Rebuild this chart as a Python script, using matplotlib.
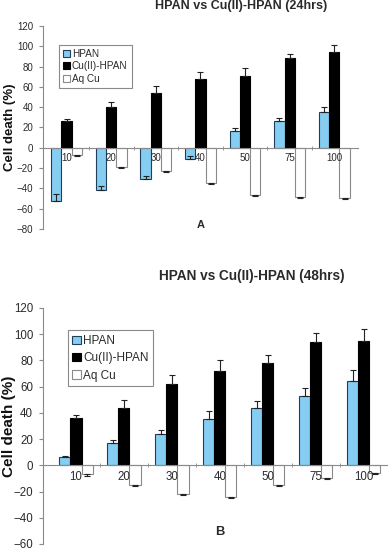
"""
plot.py - HPAN vs Cu(II)-HPAN cell death, 24 h and 48 h panels.
"""

import matplotlib
matplotlib.use("Agg")
import matplotlib.pyplot as plt
import numpy as np

plt.rcParams["font.family"] = ["Liberation Sans", "DejaVu Sans"]

# data

doses = ["10", "20", "30", "40", "50", "75", "100"]

hpan_24 = [-52, -42, -31, -11, 17, 26, 35]
hpan_24_err = [6.5, 4, 3, 2.5, 2.5, 3.5, 5]
cu_24 = [26, 40, 54, 68, 71, 88, 94]
cu_24_err = [2.5, 5, 6.5, 7, 8, 4.5, 7]
aq_24 = [-7, -19, -23, -35, -47, -49, -49.5]
aq_24_err = [0.8, 0.8, 0.8, 0.8, 0.8, 0.8, 0.8]

hpan_48 = [6, 17, 24, 35, 44, 53, 64]
hpan_48_err = [1, 2.5, 3, 6, 5, 6, 8.5]
cu_48 = [36, 44, 62, 72, 78, 94, 95]
cu_48_err = [2.5, 6, 7, 8.5, 6, 6.5, 9]
aq_48 = [-7, -15, -22, -24, -15, -10, -6]
aq_48_err = [0.8, 0.8, 0.8, 0.8, 0.8, 0.8, 0.8]

BLUE = "#86CDF2"
GREY = "#8a8a8a"
TXT = "#2a2a2a"


def panel(ax, hpan, hpan_err, cu, cu_err, aq, aq_err, ylim, xlim, fs, ylab_fs, ylab_x,
          leg_pos, leg_fs, leg_sp, letter, letter_y):
    x = np.arange(len(doses))
    w = 0.23
    zeros = np.zeros(len(doses))
    ekw = dict(ecolor="#222222", elinewidth=0.8, capsize=2, capthick=0.8)

    b1 = ax.bar(x - w, hpan, w, color=BLUE, edgecolor="#1f3f5a", linewidth=0.8,
                yerr=[zeros, hpan_err], error_kw=ekw, label="HPAN")
    b2 = ax.bar(x, cu, w, color="black", edgecolor="black", linewidth=0.8,
                yerr=[zeros, cu_err], error_kw=ekw, label="Cu(II)-HPAN")
    b3 = ax.bar(x + w, aq, w, color="white", edgecolor=GREY, linewidth=0.8,
                yerr=[aq_err, zeros], error_kw=ekw, label="Aq Cu")

    ax.set_xlim(*xlim)
    ax.set_ylim(*ylim)
    ax.set_yticks(np.arange(ylim[0], ylim[1] + 1, 20))

    for s in ["top", "right"]:
        ax.spines[s].set_visible(False)
    ax.spines["bottom"].set_position(("data", 0))
    ax.spines["bottom"].set_color(GREY)
    ax.spines["left"].set_color(GREY)

    ax.set_xticks(x)
    ax.set_xticklabels(doses, fontsize=fs, color=TXT)
    ax.set_xticks(x[:-1] + 0.5, minor=True)
    ax.tick_params(axis="x", which="major", length=0, pad=4)
    ax.tick_params(axis="x", which="minor", length=2.5, color=GREY, direction="inout")
    ax.tick_params(axis="y", labelsize=fs, labelcolor=TXT, length=3, color=GREY, pad=4)

    ax.set_ylabel("Cell death (%)", fontsize=ylab_fs, fontweight="bold", color="#111111")
    ax.yaxis.set_label_coords(ylab_x, 0.5)

    leg = ax.legend(handles=[b1, b2, b3], loc="upper left", bbox_to_anchor=leg_pos,
                    fontsize=leg_fs, handlelength=0.7, handleheight=0.7,
                    handletextpad=0.2, labelspacing=leg_sp, borderpad=0.4,
                    fancybox=False, framealpha=1)
    leg.get_frame().set_edgecolor(GREY)
    leg.get_frame().set_linewidth(0.8)
    for t in leg.get_texts():
        t.set_color(TXT)

    ax.text(3, letter_y, letter, ha="center", va="center", fontsize=fs + 1,
            fontweight="bold", color=TXT)


fig = plt.figure(figsize=(3.9, 5.53), dpi=100)

ax1 = fig.add_axes([0.110, 0.586, 0.808, 0.367])
panel(ax1, hpan_24, hpan_24_err, cu_24, cu_24_err, aq_24, aq_24_err,
      (-80, 120), (-0.53, 6.53), 7, 9.5, -0.085,
      (0.035, 0.93), 7.2, 0.22, "A", -76)
fig.text(0.618, 1 - 6 / 553, "HPAN vs Cu(II)-HPAN (24hrs)", ha="center", va="center",
         fontsize=9, fontweight="bold", color=TXT)

ax2 = fig.add_axes([0.110, 0.0163, 0.882, 0.427])
panel(ax2, hpan_48, hpan_48_err, cu_48, cu_48_err, aq_48, aq_48_err,
      (-60, 120), (-0.69, 6.48), 8.3, 11, -0.078,
      (0.055, 0.93), 8.5, 0.45, "B", -51)
fig.text(0.646, 1 - 276 / 553, "HPAN vs Cu(II)-HPAN (48hrs)", ha="center", va="center",
         fontsize=9.8, fontweight="bold", color=TXT)

fig.savefig("out.png", dpi=100)
